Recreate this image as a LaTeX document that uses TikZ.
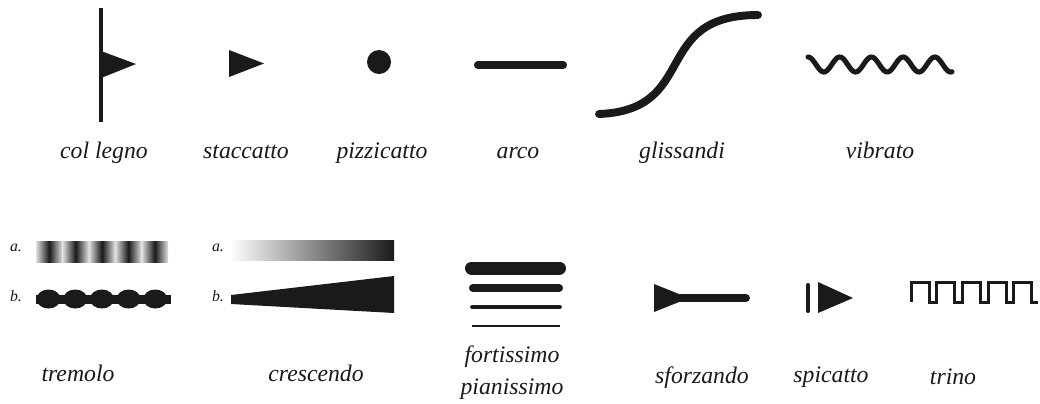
\documentclass[tikz,border=0pt]{standalone}
\usepackage{fontspec}
\setmainfont{Liberation Serif}
\usepackage{xcolor}
\usepackage{tikz}
\usetikzlibrary{calc}
\definecolor{ink}{HTML}{1A1A1A}
\definecolor{paper}{HTML}{FFFFFF}

\tikzset{
  lbl/.style={anchor=base, font=\fontsize{13.5}{16}\selectfont\itshape\color{ink}},
  sublbl/.style={anchor=base, font=\fontsize{9}{10}\selectfont\itshape\color{ink}},
  stroke/.style={draw=ink, line cap=round},
}

\begin{document}
\begin{tikzpicture}[x=0.02cm, y=-0.02cm]
\useasboundingbox[fill=paper] (0,0) rectangle (1040,403);

% Row 1 -----------------------------------------------------------

% col legno
\draw[stroke, line cap=butt, line width=2.3pt] (101,8) -- (101,122);
\fill[ink] (101,51) -- (136,64) -- (101,78) -- cycle;
\node[lbl] (colLegno) at (104,158) {col legno};

% staccatto
\fill[ink] (229,50) -- (264,63.5) -- (229,77) -- cycle;
\node[lbl] (staccatto) at (246,158) {staccatto};

% pizzicatto
\fill[ink] (379,62) circle (12);
\node[lbl] (pizzicatto) at (382,158) {pizzicatto};

% arco
\draw[stroke, line width=4pt] (477.5,65) -- (563.5,65);
\node[lbl] (arco) at (518,158) {arco};

% glissandi
\draw[stroke, line width=4.5pt] (599,114) .. controls (700,110) and (650,15) .. (758,15);
\node[lbl] (glissandi) at (682,158) {glissandi};

% vibrato
\draw[stroke, line width=2.9pt, smooth] plot[domain=0:144, samples=120]
  ({808+\x}, {64.5 - 7.5*cos(11.356*\x)});
\node[lbl] (vibrato) at (880,158) {vibrato};

% Row 2 -----------------------------------------------------------

% tremolo
\def\tremstep{26.4}
\node[sublbl] (tremA) at (16,251) {a.};
\node[sublbl] (tremB) at (16,301) {b.};
\foreach \i in {0,...,4}{
  \shade[left color=black!12, right color=black!12, middle color=ink]
    ({36+\i*\tremstep},241) rectangle ({36+(\i+1)*\tremstep},262);
}
\fill[ink] (36,294.5) rectangle (171,304);
\foreach \i in {0,...,4}{
  \fill[ink] ({48.5+\i*26.7},299) ellipse (12 and 9.5);
}
\node[lbl] (tremolo) at (78,381) {tremolo};

% crescendo
\node[sublbl] (cresA) at (218,251) {a.};
\node[sublbl] (cresB) at (218,301) {b.};
\shade[left color=white, right color=ink] (230,240) rectangle (394,260);
\fill[ink] (231,295) -- (394,276) -- (394,313) -- (231,304) -- cycle;
\node[lbl] (crescendo) at (316,381) {crescendo};

% fortissimo / pianissimo
\draw[stroke, line width=7.4pt] (471.5,268) -- (559.5,268);
\draw[stroke, line width=4pt] (472.5,288) -- (559.5,288);
\draw[stroke, line width=2.8pt] (472.5,307) -- (559.5,307);
\draw[stroke, line cap=butt, line width=1.1pt] (472,326) -- (560,326);
\node[lbl] (fortissimo) at (512,362) {fortissimo};
\node[lbl] (pianissimo) at (512,394) {pianissimo};

% sforzando
\fill[ink] (654,284) -- (684,296) -- (684,300) -- (654,312) -- cycle;
\draw[stroke, line width=4.5pt] (670,298) -- (746,298);
\node[lbl] (sforzando) at (702,383) {sforzando};

% spicatto
\draw[stroke, line width=2.3pt] (808,285) -- (808,311);
\fill[ink] (818,282) -- (853,298) -- (818,313) -- cycle;
\node[lbl] (spicatto) at (831,382) {spicatto};

% trino
\def\trinostep{25.7}
\draw[draw=ink, line width=1.7pt, line join=miter]
  (911,302)
  \foreach \i in {0,...,4}{
    -- ({911+\i*\trinostep},302) -- ({911+\i*\trinostep},282)
    -- ({929+\i*\trinostep},282) -- ({929+\i*\trinostep},302)
  }
  -- (1038,302);
\node[lbl] (trino) at (953,384) {trino};

\end{tikzpicture}
\end{document}
